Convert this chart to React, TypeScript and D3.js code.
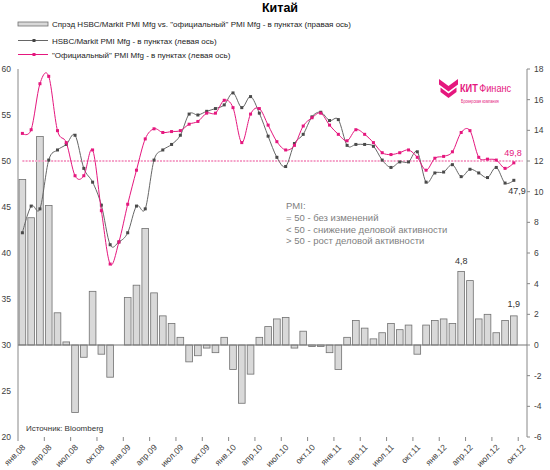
import React from "react";
import * as d3 from "d3";

// 58 monthly categories: Jan 2008 .. Oct 2012
const categories: string[] = [];
for (let y = 2008; y <= 2012; y++) {
  for (let m = 1; m <= 12; m++) {
    if (y === 2012 && m > 10) break;
    categories.push(`${y}-${String(m).padStart(2, "0")}`);
  }
}

const tickLabels = [
  "янв.08", "апр.08", "июл.08", "окт.08",
  "янв.09", "апр.09", "июл.09", "окт.09",
  "янв.10", "апр.10", "июл.10", "окт.10",
  "янв.11", "апр.11", "июл.11", "окт.11",
  "янв.12", "апр.12", "июл.12", "окт.12",
];

// "Официальный" PMI Mfg (left axis)
const official = [
  53.0, 53.4, 58.4, 59.2, 53.3, 52.0, 48.4, 48.4, 51.2, 44.6, 38.8, 41.2,
  45.3, 49.0, 52.4, 53.5, 53.1, 53.2, 53.3, 54.0, 54.3, 55.2, 55.2, 56.6,
  55.8, 52.0, 55.1, 55.7, 53.9, 52.1, 51.2, 51.7, 53.8, 54.7, 55.2, 53.9,
  52.9, 52.2, 53.4, 52.9, 52.0, 50.9, 50.7, 50.9, 51.2, 50.4, 49.0, 50.3,
  50.5, 51.0, 53.1, 53.3, 50.4, 50.2, 50.1, 49.2, 49.8,
];

// HSBC/Markit PMI Mfg (left axis)
const hsbc = [
  42.2, 45.1, 44.8, 50.1, 51.2, 51.8, 52.8, 49.2, 47.7, 45.2, 40.9, 41.2,
  42.2, 45.1, 44.8, 50.1, 51.2, 51.8, 52.8, 55.1, 55.0, 55.4, 55.7, 56.1,
  57.4, 55.8, 57.0, 55.2, 52.7, 50.4, 49.4, 51.9, 52.9, 54.8, 55.3, 54.4,
  54.5, 51.7, 51.8, 51.8, 51.6, 50.1, 49.3, 49.9, 49.9, 51.0, 47.7, 48.7,
  48.8, 49.6, 48.3, 49.1, 48.7, 48.2, 49.3, 47.6, 47.9,
];

// Spread, points (right axis)
const spread = [
  10.8, 8.3, 13.6, 9.1, 2.1, 0.2, -4.4, -0.8, 3.5, -0.6, -2.1, 0.0,
  3.1, 3.9, 7.6, 3.4, 1.9, 1.4, 0.5, -1.1, -0.7, -0.2, -0.5, 0.5,
  -1.6, -3.8, -1.9, 0.5, 1.2, 1.7, 1.8, -0.2, 0.9, -0.1, -0.1, -0.5,
  -1.6, 0.5, 1.6, 1.1, 0.4, 0.8, 1.4, 1.0, 1.3, -0.6, 1.3, 1.6,
  1.7, 1.4, 4.8, 4.2, 1.7, 2.0, 0.8, 1.6, 1.9,
];

const leftTicks = [20, 25, 30, 35, 40, 45, 50, 55, 60];
const rightTicks = [-6, -4, -2, 0, 2, 4, 6, 8, 10, 12, 14, 16, 18];
const neutralLevel = 50;

const FONT = "'Liberation Sans', Arial, sans-serif";
const PINK = "#e5177e";
const GRAY = "#666666";

export default function App() {
  const X0 = 18, X1 = 527, YT = 69, YB = 437;
  const x = d3.scaleBand<number>().domain(d3.range(categories.length)).range([X0, X1]).padding(0);
  const step = x.step();
  const cx = (i: number) => (x(i) as number) + step / 2;
  const yL = d3.scaleLinear().domain([20, 60]).range([YB, YT]);
  const yR = d3.scaleLinear().domain([-6, 18]).range([YB, YT]);

  const line = d3
    .line<number>()
    .x((_, i) => cx(i))
    .y((d) => yL(d))
    .curve(d3.curveCatmullRom.alpha(0));

  const lastI = official.length - 1;

  return (
    <svg
      width={550}
      height={470}
      style={{ position: "fixed", left: 0, top: 0, background: "#fff" }}
      fontFamily={FONT}
    >
      {/* title */}
      <text x={280} y={12} textAnchor="middle" fontSize={12.5} fontWeight="bold" fill="#000">
        Китай
      </text>

      {/* legend */}
      <rect x={18} y={22} width={30} height={4} fill="#d9d9d9" stroke="#707070" strokeWidth={0.8} />
      <text x={52} y={27} fontSize={8} fill="#222">
        Спрэд HSBC/Markit PMI Mfg vs. "официальный" PMI Mfg - в пунктах (правая ось)
      </text>
      <line x1={18} x2={48} y1={40.5} y2={40.5} stroke={GRAY} strokeWidth={1} />
      <rect x={32.5} y={39} width={3} height={3} fill="#444" />
      <text x={52} y={43.5} fontSize={8} fill="#222">
        HSBC/Markit PMI Mfg - в пунктах (левая ось)
      </text>
      <line x1={18} x2={48} y1={54.5} y2={54.5} stroke={PINK} strokeWidth={1} />
      <rect x={32.5} y={53} width={3} height={3} fill={PINK} />
      <text x={52} y={57.5} fontSize={8} fill="#222">
        "Официальный" PMI Mfg  - в пунктах (левая ось)
      </text>

      {/* logo */}
      <g fill={PINK}>
        <path d="M439,79 L448.5,86 L458,79 L458,84.5 L448.5,91.5 L439,84.5 Z" />
        <path d="M440.5,87.5 L448.5,93.5 L456.5,87.5 L456.5,92 L448.5,98 L440.5,92 Z" />
        <g transform="translate(460,92) scale(0.8,1)">
          <text x={0} y={0} fontSize={11.5} fontWeight="bold">
            КИТ
          </text>
          <text x={24} y={0} fontSize={11.5}>
            Финанс
          </text>
        </g>
        <g transform="translate(461,102.5) scale(0.78,1)">
          <text x={0} y={0} fontSize={4.8}>
            Брокерская компания
          </text>
        </g>
      </g>

      {/* left axis */}
      <line x1={X0} x2={X0} y1={YT} y2={YB} stroke="#888" strokeWidth={1} />
      {leftTicks.map((t) => (
        <text key={"l" + t} x={11} y={yL(t) + 3} textAnchor="end" fontSize={8.5} fill="#404040">
          {t}
        </text>
      ))}

      {/* right axis */}
      <line x1={X1} x2={X1} y1={YT} y2={YB} stroke="#888" strokeWidth={1} />
      {rightTicks.map((t) => (
        <g key={"r" + t}>
          <line x1={X1} x2={X1 + 3} y1={yR(t)} y2={yR(t)} stroke="#888" />
          <text x={534} y={yR(t) + 3} fontSize={8.5} fill="#404040">
            {t}
          </text>
        </g>
      ))}

      {/* x ticks and labels */}
      {tickLabels.map((lab, k) => {
        const bx = X0 + 3 * k * step;
        const ax = cx(3 * k) + 3.5;
        const ay = 448;
        return (
          <g key={"x" + k}>
            <line x1={bx} x2={bx} y1={YB} y2={YB + 4} stroke="#888" />
            <text
              x={ax}
              y={ay}
              fontSize={8.5}
              fill="#404040"
              textAnchor="end"
              transform={`rotate(-45 ${ax} ${ay})`}
            >
              {lab}
            </text>
          </g>
        );
      })}

      {/* bars */}
      {spread.map((v, i) =>
        v === 0 ? null : (
          <rect
            key={"b" + i}
            x={(x(i) as number) + step * 0.12}
            width={step * 0.76}
            y={yR(Math.max(v, 0))}
            height={Math.abs(yR(v) - yR(0))}
            fill="#d9d9d9"
            stroke="#707070"
            strokeWidth={0.8}
          />
        )
      )}
      <line x1={X0} x2={X1} y1={yR(0)} y2={yR(0)} stroke="#777" strokeWidth={1} />

      {/* 50 level */}
      <line
        x1={cx(0)}
        x2={cx(categories.length - 1)}
        y1={yL(neutralLevel)}
        y2={yL(neutralLevel)}
        stroke="#f5a3c9"
        strokeWidth={1.8}
        strokeDasharray="2 1.2"
      />

      {/* HSBC line */}
      <path d={line(hsbc) || ""} fill="none" stroke={GRAY} strokeWidth={1} />
      {hsbc.map((v, i) => (
        <rect key={"h" + i} x={cx(i) - 1.5} y={yL(v) - 1.5} width={3} height={3} fill="#4a4a4a" />
      ))}

      {/* official line */}
      <path d={line(official) || ""} fill="none" stroke={PINK} strokeWidth={1} />
      {official.map((v, i) => (
        <rect key={"o" + i} x={cx(i) - 1.5} y={yL(v) - 1.5} width={3} height={3} fill={PINK} />
      ))}

      {/* value labels */}
      <text x={513} y={156} textAnchor="middle" fontSize={9} fill={PINK}>
        {String(official[lastI]).replace(".", ",")}
      </text>
      <text x={517} y={194} textAnchor="middle" fontSize={9} fill="#333">
        {String(hsbc[lastI]).replace(".", ",")}
      </text>
      <text x={cx(50)} y={264} textAnchor="middle" fontSize={9} fill="#333">
        {String(spread[50]).replace(".", ",")}
      </text>
      <text x={cx(lastI)} y={307} textAnchor="middle" fontSize={9} fill="#333">
        {String(spread[lastI]).replace(".", ",")}
      </text>

      {/* annotation */}
      <g fontSize={9.5} fill="#808080">
        <text x={286} y={209}>PMI:</text>
        <text x={286} y={221}>= 50 - без изменений</text>
        <text x={286} y={232.5}>&lt; 50 - снижение деловой активности</text>
        <text x={286} y={244}>&gt; 50 - рост деловой активности</text>
      </g>

      {/* source */}
      <text x={26} y={431} fontSize={8} fill="#333">
        Источник: Bloomberg
      </text>
    </svg>
  );
}
